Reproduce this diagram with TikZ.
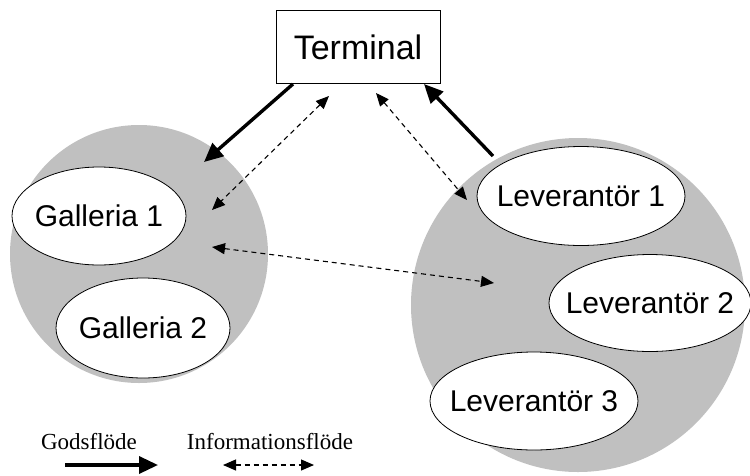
\documentclass[tikz,border=0pt]{standalone}
\usepackage{fontspec}
\setmainfont{Liberation Serif}
\newfontfamily\labelfont{Liberation Sans}
\usetikzlibrary{arrows.meta,shapes.geometric}
\definecolor{zone}{RGB}{192,192,192}
\tikzset{
  zone/.style={circle,fill=zone,draw=none,inner sep=0pt},
  actor/.style={ellipse,draw=black,line width=0.8pt,fill=white,inner sep=0pt},
  actorname/.style={font=\labelfont\fontsize{30}{32}\selectfont,inner sep=0pt},
  goods/.style={line width=3.4pt,-{Triangle[length=19pt,width=17pt]}},
  info/.style={line width=1.1pt,dash pattern=on 5pt off 4pt,{Triangle[length=13pt,width=11pt]}-{Triangle[length=13pt,width=11pt]}},
  legendtext/.style={font=\fontsize{23}{25}\selectfont,inner sep=0pt}
}
\begin{document}
\begin{tikzpicture}[x=1pt,y=-1pt]
\useasboundingbox (0,0) rectangle (750,475);
% grey regions
\node[zone,minimum size=258pt] (west) at (139,254) {};
\node[zone,minimum size=334pt] (east) at (578,305) {};
% terminal
\node[draw=black,line width=0.8pt,fill=white,minimum width=164pt,minimum height=73pt,inner sep=0pt,font=\labelfont\fontsize{34}{36}\selectfont] (term) at (358,47) {Terminal};
% actors: fixed-size ellipses with centred names
\node[actor,minimum width=174pt,minimum height=98pt] (g1) at (99,216) {};
\node[actor,minimum width=174pt,minimum height=100pt] (g2) at (143,328) {};
\node[actor,minimum width=208pt,minimum height=99pt] (l1) at (581,196) {};
\node[actor,minimum width=202pt,minimum height=97pt] (l2) at (650,303) {};
\node[actor,minimum width=208pt,minimum height=98pt] (l3) at (534,401) {};
\node[actorname] (g1t) at (g1) {Galleria 1};
\node[actorname] (g2t) at (g2) {Galleria 2};
\node[actorname] (l1t) at (l1) {Leverantör 1};
\node[actorname] (l2t) at (l2) {Leverantör 2};
\node[actorname] (l3t) at (l3) {Leverantör 3};
% connector ends
\coordinate (tA) at (293,84);
\coordinate (tB) at (424,84);
\coordinate (tC) at (329,96);
\coordinate (tD) at (376,93);
\coordinate (wIn) at (204,162);
\coordinate (wInfo) at (212,210);
\coordinate (wMid) at (212,247);
\coordinate (eOut) at (493,156);
\coordinate (eInfo) at (467,200);
\coordinate (eMid) at (494,283);
% goods flow
\draw[goods] (tA) -- (wIn);
\draw[goods] (eOut) -- (tB);
% information flow
\draw[info] (tC) -- (wInfo);
\draw[info] (tD) -- (eInfo);
\draw[info] (wMid) -- (eMid);
% legend
\node[legendtext] (lgGoods) at (89,442) {Godsflöde};
\node[legendtext] (lgInfo) at (270,442) {Informationsflöde};
\coordinate (lgA) at (65,465);
\coordinate (lgB) at (158,465);
\coordinate (lgC) at (223,465);
\coordinate (lgD) at (314,465);
\draw[goods] (lgA) -- (lgB);
\draw[info] (lgC) -- (lgD);
\end{tikzpicture}
\end{document}
